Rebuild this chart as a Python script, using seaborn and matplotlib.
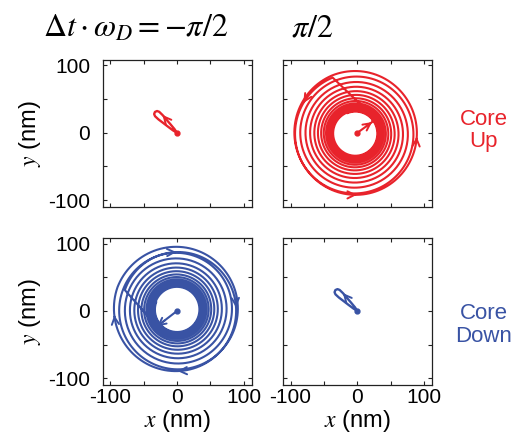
import numpy as np
import matplotlib
matplotlib.use("Agg")
import matplotlib.pyplot as plt
from matplotlib.ticker import MultipleLocator
import seaborn as sns

RED = "#e8232b"
BLUE = "#3953a4"

# ---- data (nm) ----
# core up, dt*wD = +pi/2: lead-in from the origin, then counter-clockwise spiral
up_lead_x = [0, 22, 24, -37]
up_lead_y = [0, 16, 24, 82]
up_turn_r = [90, 93, 84, 76, 69, 62.5, 57, 52, 48, 44.5, 41.5, 39, 37, 35, 33.5, 32.5]
up_center = (-3, -1)
up_arrow_deg = [149, 270, 355]

# core down, dt*wD = -pi/2: lead-in, then clockwise spiral
down_lead_x = [0, -30, -78]
down_lead_y = [0, -23, 31]
down_turn_r = [84, 95, 86, 77.5, 70, 63.5, 58, 53, 49, 45.5, 42.5, 40, 37.5, 35.5, 34, 33]
down_center = (0, 2)
down_arrow_deg = [92, 3, -88, -174]

# small off-resonant loop (core up at -pi/2, core down at +pi/2)
loop_x = [0, -3.9, -9.8, -15.8, -21.7, -26.6, -29.8, -33.0, -34.2, -32.8, -27.8, -20.5, -13.3, -6.0, 0]
loop_y = [0, 5.7, 12.7, 19.6, 26.5, 31.2, 32.4, 31.0, 27.8, 24.6, 20.0, 14.5, 9.0, 3.6, 0]

ticks = [-100, 0, 100]

sns.set_theme(style="ticks")
plt.rcParams["font.family"] = ["Liberation Sans", "DejaVu Sans"]
plt.rcParams["mathtext.fontset"] = "stix"
plt.rcParams["axes.unicode_minus"] = False
plt.rcParams["text.color"] = "black"
plt.rcParams["axes.labelcolor"] = "black"
plt.rcParams["xtick.color"] = "black"
plt.rcParams["ytick.color"] = "black"


def spiral(x0, y0, center, turn_r, direction):
    cx, cy = center
    a0 = np.arctan2(y0 - cy, x0 - cx)
    r = np.array(turn_r, float)
    r[0] = np.hypot(x0 - cx, y0 - cy)
    s = np.linspace(0, len(r) - 1, 240 * (len(r) - 1))
    rad = np.interp(s, np.arange(len(r)), r)
    th = a0 + direction * 2 * np.pi * s
    return s, cx + rad * np.cos(th), cy + rad * np.sin(th), np.degrees(a0)


def arrow(ax, x, y, i, color):
    ax.annotate("", xy=(x[i + 1], y[i + 1]), xytext=(x[i], y[i]),
                arrowprops=dict(arrowstyle="->", color=color, lw=1.4,
                                mutation_scale=13, shrinkA=0, shrinkB=0))


def draw_spiral(ax, lead_x, lead_y, center, turn_r, direction, arrow_deg, color):
    s, sx, sy, a0 = spiral(lead_x[-1], lead_y[-1], center, turn_r, direction)
    x = np.concatenate([lead_x, sx])
    y = np.concatenate([lead_y, sy])
    sns.lineplot(x=x, y=y, sort=False, estimator=None, color=color, lw=1.5, ax=ax)
    ax.plot(0, 0, "o", color=color, ms=3.5)
    # arrow on the lead-in
    ax.annotate("", xy=(lead_x[1], lead_y[1]), xytext=(lead_x[1] * 0.6, lead_y[1] * 0.6),
                arrowprops=dict(arrowstyle="->", color=color, lw=1.4,
                                mutation_scale=13, shrinkA=0, shrinkB=0))
    for d in arrow_deg:
        frac = ((d - a0) * direction % 360) / 360
        i = int(np.argmin(np.abs(s - frac)))
        arrow(ax, sx, sy, i, color)


def draw_loop(ax, color):
    sns.lineplot(x=loop_x, y=loop_y, sort=False, estimator=None, color=color, lw=1.7, ax=ax)
    ax.plot(0, 0, "o", color=color, ms=3.5)
    arrow(ax, loop_x, loop_y, 3, color)


fig = plt.figure(figsize=(5.14, 4.42), dpi=100)
pos = {(0, 0): [0.200, 0.532, 0.290, 0.332], (0, 1): [0.551, 0.532, 0.290, 0.332],
       (1, 0): [0.200, 0.129, 0.290, 0.332], (1, 1): [0.551, 0.129, 0.290, 0.332]}
axes = {k: fig.add_axes(v) for k, v in pos.items()}

draw_loop(axes[(0, 0)], RED)
draw_spiral(axes[(0, 1)], up_lead_x, up_lead_y, up_center, up_turn_r, 1, up_arrow_deg, RED)
draw_spiral(axes[(1, 0)], down_lead_x, down_lead_y, down_center, down_turn_r, -1, down_arrow_deg, BLUE)
draw_loop(axes[(1, 1)], BLUE)

for (r, c), ax in axes.items():
    ax.set_xlim(-111, 112)
    ax.set_ylim(-110, 108)
    ax.set_xticks(ticks)
    ax.set_yticks(ticks)
    ax.xaxis.set_minor_locator(MultipleLocator(50))
    ax.yaxis.set_minor_locator(MultipleLocator(50))
    ax.tick_params(which="both", direction="in", top=True, right=True,
                   length=3, width=0.8, color="#222222", labelsize=15)
    ax.tick_params(axis="x", pad=2)
    ax.tick_params(axis="y", pad=9)
    for sp in ax.spines.values():
        sp.set_color("#222222")
        sp.set_linewidth(0.9)
    ax.set_xlabel("")
    ax.set_ylabel("")
    if r == 0:
        ax.set_xticklabels([])
    else:
        ax.set_xlabel(r"$x$ (nm)", fontsize=17, labelpad=1)
    if c == 1:
        ax.set_yticklabels([])
    else:
        ax.set_ylabel(r"$y$ (nm)", fontsize=17, labelpad=4)

fig.text(0.263, 0.935, r"$\Delta t\cdot\omega_D = -\pi/2$", fontsize=23, ha="center", va="center")
fig.text(0.607, 0.935, r"$\pi/2$", fontsize=23, ha="center", va="center")
fig.text(0.941, 0.705, "Core\nUp", color=RED, fontsize=16, ha="center", va="center", linespacing=1.1)
fig.text(0.941, 0.265, "Core\nDown", color=BLUE, fontsize=16, ha="center", va="center", linespacing=1.1)

fig.savefig("out.png", dpi=100)
